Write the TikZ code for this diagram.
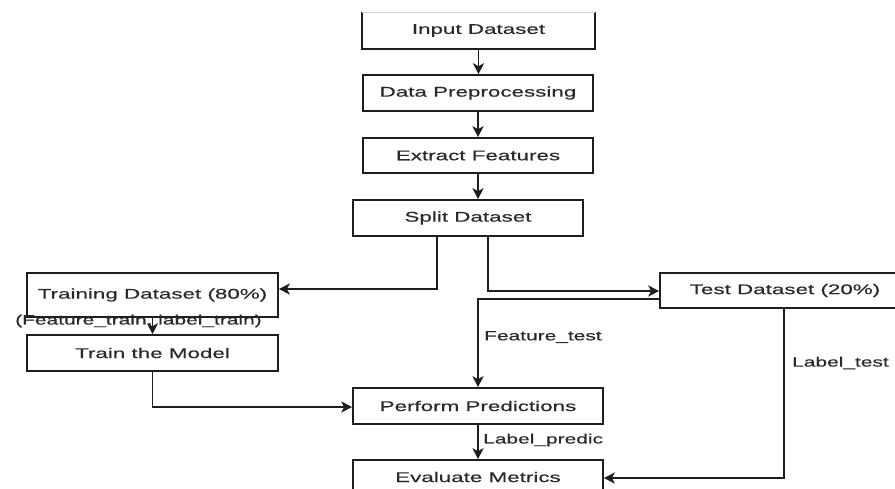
\documentclass[tikz,border=0pt]{standalone}
\usepackage{fontspec}
\setmainfont{Liberation Sans}
\newfontfamily\boxfont[FakeStretch=1.6,FakeBold=0.4]{Liberation Sans}
\newfontfamily\lblfont[FakeStretch=1.55,FakeBold=0.4]{Liberation Sans}
\usetikzlibrary{arrows.meta}
\definecolor{ink}{HTML}{1E1E1E}
\definecolor{txt}{HTML}{2A2A2A}
\begin{document}
\begin{tikzpicture}[x=1pt,y=-1pt,
  stepbox/.style={draw=ink,line width=1.6pt,fill=white,rectangle,inner sep=0pt,
    minimum height=36pt,font=\boxfont\fontsize{14}{16}\selectfont,text=txt},
  flow/.style={draw=ink,line width=1.6pt,-{Stealth[length=11pt,width=11pt,inset=3pt]}},
  tag/.style={font=\lblfont\fontsize{13.5}{16}\selectfont,text=txt,inner sep=0pt,anchor=west}]
\clip (0,0) rectangle (895,488);
\fill[white] (0,0) rectangle (895,488);

% process boxes
\node[stepbox, draw=none, minimum width=231pt, minimum height=35pt] (inp) at (478.5,30.5) {Input Dataset};
\draw[ink, line width=1.6pt] (inp.north west) -- (inp.south west) -- (inp.south east) -- (inp.north east);
\draw[ink!20, line width=0.8pt] (inp.north west) -- (inp.north east);
\node[stepbox, minimum width=230pt] (prep) at (478,93) {Data Preprocessing};
\node[stepbox, minimum width=230pt, minimum height=35pt] (ext) at (478,155.5) {Extract Features};
\node[stepbox, minimum width=230pt] (split) at (468,218) {Split Dataset};
\node[stepbox, minimum width=251pt, minimum height=44pt] (train) at (152.5,295) {Training Dataset (80\%)};
\node[stepbox, minimum width=251pt] (model) at (152.5,353) {Train the Model};
\node[stepbox, minimum width=250pt, minimum height=35pt] (test) at (785,290.5) {Test Dataset (20\%)};
\node[stepbox, minimum width=250pt] (pred) at (478,406) {Perform Predictions};
\node[stepbox, minimum width=250pt, minimum height=34pt] (eval) at (478,477) {Evaluate Metrics};

% bend points of the connectors
\coordinate (a1) at (437,289);
\coordinate (a2) at (488,291);
\coordinate (a3) at (152.5,407);
\coordinate (a4) at (478,299);
\coordinate (a5) at (784,478);

% connectors
\draw[flow] (inp.south) -- (inp.south |- prep.north);
\draw[flow] (prep.south) -- (prep.south |- ext.north);
\draw[flow] (ext.south) -- (ext.south |- split.north);
\draw[flow] (split.south -| a1) -- (a1) -- (train.east |- a1);
\draw[flow] (split.south -| a2) -- (a2) -- (test.west |- a2);
\draw[flow] (train.south) -- (train.south |- model.north);
\draw[flow] (model.south) -- (a3) -- (pred.west |- a3);
\draw[flow] (test.west |- a4) -- (a4) -- (pred.north);
\draw[flow] (test.south -| a5) -- (a5) -- (eval.east |- a5);
\draw[flow] (pred.south) -- (eval.north);

% connector labels
\node[tag] (l1) at (15,321) {(Feature\_train, label\_train)};
\node[tag] (l2) at (484,337) {Feature\_test};
\node[tag] (l3) at (792,363) {Label\_test};
\node[tag] (l4) at (483,440) {Label\_predic};
\end{tikzpicture}
\end{document}
